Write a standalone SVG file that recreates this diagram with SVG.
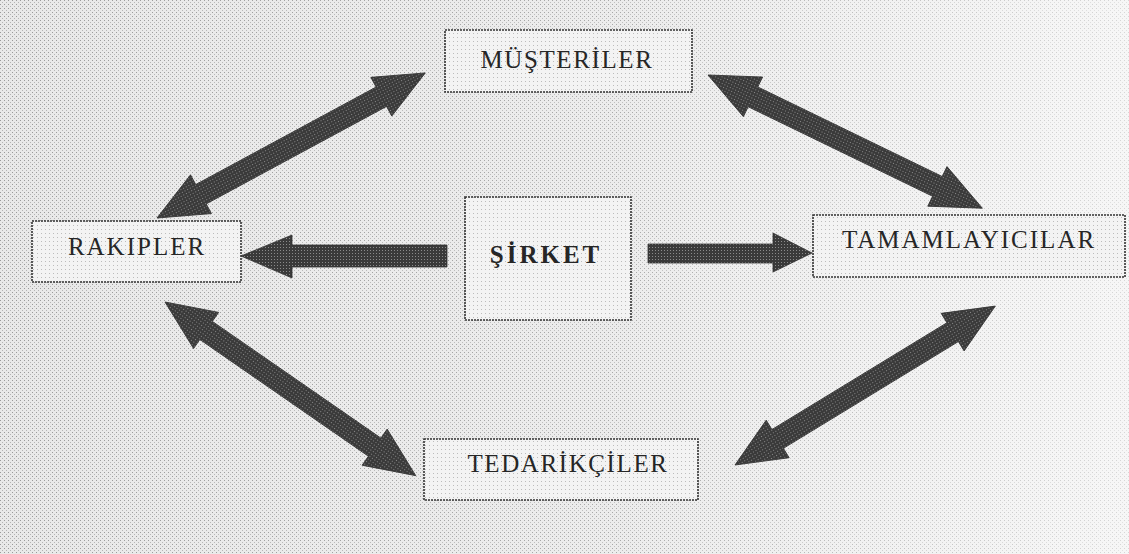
<svg xmlns="http://www.w3.org/2000/svg" xmlns:xlink="http://www.w3.org/1999/xlink" width="1129" height="554" viewBox="0 0 1129 554">
<defs>
<pattern id="bgdots" width="4" height="4" patternUnits="userSpaceOnUse">
<rect width="4" height="4" fill="#e9e9e9"/>
<rect x="0" y="0" width="1" height="1" fill="#9a9a9a"/>
<rect x="2" y="2" width="1" height="1" fill="#b4b4b4"/>
</pattern>
<pattern id="boxdots" width="4" height="4" patternUnits="userSpaceOnUse">
<rect width="4" height="4" fill="#f3f3f3"/>
<rect x="1" y="1" width="1" height="1" fill="#bcbcbc"/>
</pattern>
<pattern id="arrowdots" width="3" height="3" patternUnits="userSpaceOnUse">
<rect width="3" height="3" fill="#3a3a3a"/>
<rect x="1" y="1" width="1" height="1" fill="#8a8a8a"/>
</pattern>
<linearGradient id="fade" x1="0" y1="0" x2="1" y2="0">
<stop offset="0" stop-color="#fff" stop-opacity="0"/>
<stop offset="0.55" stop-color="#fff" stop-opacity="0.15"/>
<stop offset="1" stop-color="#fff" stop-opacity="0.6"/>
</linearGradient>
<polygon id="dbl" points="0,0 50,-22 50,-11 255,-11 255,-22 305,0 255,22 255,11 50,11 50,22"/>
<style>
.box{fill:url(#boxdots);stroke:#333;stroke-width:1.6;stroke-dasharray:2 1}
.lbl{font-family:"Liberation Serif","Times New Roman",serif;font-size:25px;fill:#262626;text-anchor:middle}
.arr{fill:url(#arrowdots);stroke:#333;stroke-width:0.8}
</style>
</defs>
<rect width="1129" height="554" fill="url(#bgdots)"/>
<rect width="1129" height="554" fill="url(#fade)"/>
<g id="connectors">
<use xlink:href="#dbl" class="arr" transform="translate(157,218) rotate(-28.4)"/>
<use xlink:href="#dbl" class="arr" transform="translate(708,75) rotate(25.9)"/>
<use xlink:href="#dbl" class="arr" transform="translate(165,302) rotate(34.7)"/>
<use xlink:href="#dbl" class="arr" transform="translate(735,465) rotate(-31.4)"/>
<polygon class="arr" points="241,256 292,235 292,245 447,245 447,267 292,267 292,278"/>
<polygon class="arr" points="648,244 773,244 773,233 812,253 773,272 773,263 648,263"/>
</g>
<g id="musteriler">
<rect class="box" x="445" y="30" width="247" height="62"/>
<text class="lbl" x="567" y="68" letter-spacing="1.6">MÜŞTERİLER</text>
</g>
<g id="rakipler">
<rect class="box" x="32" y="221" width="209" height="61"/>
<text class="lbl" x="137" y="255" letter-spacing="2">RAKIPLER</text>
</g>
<g id="sirket">
<rect class="box" x="465" y="197" width="166" height="123"/>
<text class="lbl" x="546" y="263" letter-spacing="3" font-weight="bold">ŞİRKET</text>
</g>
<g id="tamamlayicilar">
<rect class="box" x="813" y="215" width="312" height="62"/>
<text class="lbl" x="969" y="248" letter-spacing="2">TAMAMLAYICILAR</text>
</g>
<g id="tedarikciler">
<rect class="box" x="424" y="439" width="274" height="61"/>
<text class="lbl" x="568" y="472" letter-spacing="1.6">TEDARİKÇİLER</text>
</g>
</svg>
